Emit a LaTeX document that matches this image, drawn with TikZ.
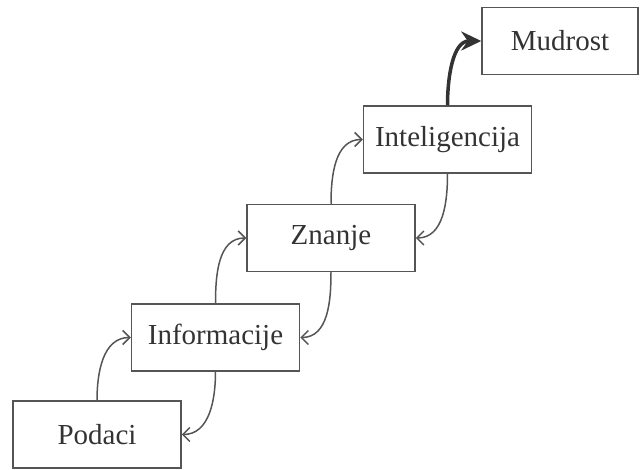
\documentclass[tikz,border=0pt]{standalone}
\usepackage{fontspec}
\setmainfont{Liberation Serif}
\usetikzlibrary{arrows.meta}
\definecolor{linegray}{HTML}{555555}
\definecolor{textgray}{HTML}{333333}
\tikzset{
  stepbox/.style={draw=linegray, line width=1.5pt, minimum width=168pt, minimum height=67pt,
    inner sep=0pt, text=textgray, font=\fontsize{29}{33}\selectfont},
  link/.style={draw=linegray, line width=1.5pt, -{Straight Barb[length=7pt,width=14pt,line width=1.5pt]}},
  bold/.style={draw=textgray, line width=3.5pt, -{Stealth[length=20pt,width=19pt]}}
}
\begin{document}
\begin{tikzpicture}[x=1pt,y=-1pt]
\useasboundingbox (0,0) rectangle (640,470);
\node[stepbox] (pod) at (97,434.5) {Podaci};
\node[stepbox] (inf) at (215.5,337.5) {Informacije};
\node[stepbox] (zna) at (331,238) {Znanje};
\node[stepbox] (int) at (447.5,139.5) {Inteligencija};
\node[stepbox, minimum width=156pt] (mud) at (560,41) {Mudrost};
\draw[link] (pod.north) to[out=90,in=180] (inf.west);
\draw[link] (inf.south) to[out=-90,in=0] (pod.east);
\draw[link] (inf.north) to[out=90,in=180] (zna.west);
\draw[link] (zna.south) to[out=-90,in=0] (inf.east);
\draw[link] (zna.north) to[out=90,in=180] (int.west);
\draw[link] (int.south) to[out=-90,in=0] (zna.east);
\draw[bold] (int.north) to[out=90,in=180] (mud.west);
\end{tikzpicture}
\end{document}
